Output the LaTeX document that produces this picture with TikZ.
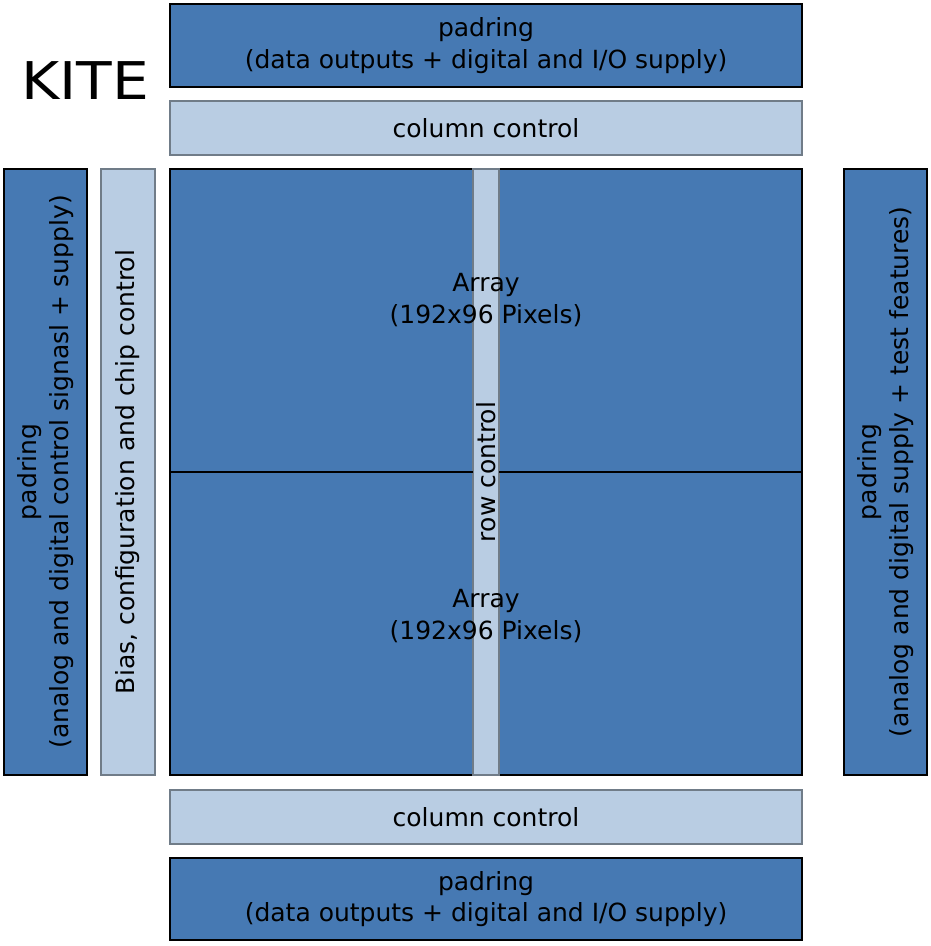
\documentclass[tikz,border=0pt]{standalone}
\usepackage{fontspec}
\setmainfont{DejaVu Sans}
\begin{document}
\begin{tikzpicture}[x=1pt,y=-1pt,
  darkbox/.style={draw=black,line width=2.2pt,fill=darkblue,inner sep=0pt,outer sep=0pt},
  lightbox/.style={draw=edgegray,line width=2.2pt,fill=lightblue,inner sep=0pt,outer sep=0pt},
  lbl/.style={font=\fontsize{25}{31.5}\selectfont,align=center,inner sep=0pt}]
\definecolor{darkblue}{HTML}{4679B3}
\definecolor{lightblue}{HTML}{B9CDE3}
\definecolor{edgegray}{HTML}{707C88}
\useasboundingbox (0,0) rectangle (931,946);
% top
\node[darkbox,minimum width=632pt,minimum height=83pt] (toppad) at (486,45.5) {};
\node[lbl] (toppadt) at (toppad.center) {padring\\(data outputs + digital and I/O supply)};
\node[lightbox,minimum width=632pt,minimum height=54pt] (topcol) at (486,128) {};
\node[lbl] (topcolt) at (topcol.center) {column control};
% left
\node[darkbox,minimum width=83pt,minimum height=606pt] (leftpad) at (45.5,472) {};
\node[lbl,rotate=90] (leftpadt) at (leftpad.center) {padring\\(analog and digital control signasl + supply)};
\node[lightbox,minimum width=54pt,minimum height=606pt] (bias) at (128,472) {};
\node[lbl,rotate=90] (biast) at (bias.center) {Bias, configuration and chip control};
% right
\node[darkbox,minimum width=83pt,minimum height=606pt] (rightpad) at (885.5,472) {};
\node[lbl,rotate=90] (rightpadt) at (rightpad.center) {padring\\(analog and digital supply + test features)};
% array
\node[darkbox,minimum width=632pt,minimum height=606pt] (arr) at (486,472) {};
\node[lightbox,minimum width=26pt,minimum height=606pt] (row) at (486,472) {};
\draw[line width=2.2pt] (arr.west) -- (row.west);
\draw[line width=2.2pt] (row.east) -- (arr.east);
\node[lbl,rotate=90] (rowt) at (row.center) {row control};
\node[lbl] (arr1) at (486,300) {Array\\(192x96 Pixels)};
\node[lbl] (arr2) at (486,616) {Array\\(192x96 Pixels)};
% bottom
\node[lightbox,minimum width=632pt,minimum height=54pt] (botcol) at (486,817) {};
\node[lbl] (botcolt) at (botcol.center) {column control};
\node[darkbox,minimum width=632pt,minimum height=82pt] (botpad) at (486,899) {};
\node[lbl] (botpadt) at (botpad.center) {padring\\(data outputs + digital and I/O supply)};
% title
\node[font=\fontsize{52}{60}\selectfont,inner sep=0pt,xscale=1.12] (kite) at (85,81) {KITE};
\end{tikzpicture}
\end{document}
